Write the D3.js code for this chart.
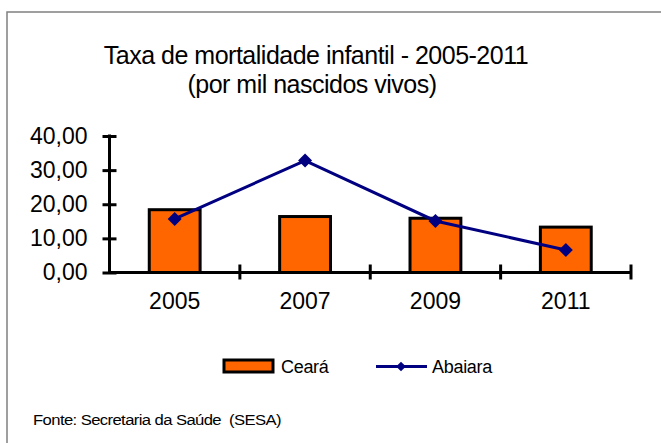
<!DOCTYPE html>
<meta charset="utf-8">
<style>
body { margin: 0; background: #fff; }
svg text { font-family: "Liberation Sans", Arial, sans-serif; fill: #000; }
.axis path, .axis line { stroke: #000; stroke-width: 3px; }
</style>
<body>
<svg id="chart" width="661" height="443"></svg>
<script src="https://d3js.org/d3.v7.min.js"></script>
<script>
// data
var years = ["2005", "2007", "2009", "2011"];
var ceara = [18.4, 16.4, 15.9, 13.3];
var abaiara = [15.7, 32.8, 15.1, 6.6];
var yTicks = [0, 10, 20, 30, 40];

var svg = d3.select("#chart");

// outer frame (runs off right and bottom edge)
svg.append("rect")
    .attr("x", 7).attr("y", 12)
    .attr("width", 700).attr("height", 500)
    .attr("fill", "#fff")
    .attr("stroke", "#808080")
    .attr("stroke-width", 1.5);

// title
var title = svg.append("text")
    .attr("text-anchor", "middle")
    .style("font-size", "25px")
    .style("letter-spacing", "-0.5px");
title.append("tspan").attr("x", 316).attr("y", 64).text("Taxa de mortalidade infantil - 2005-2011");
title.append("tspan").attr("x", 312).attr("y", 93).text("(por mil nascidos vivos)");

var pLeft = 109.5, pRight = 631, pTop = 136, pBottom = 272.5;

var x = d3.scaleBand()
    .domain(years)
    .range([pLeft, pRight])
    .paddingInner(0.61)
    .paddingOuter(0.305);

var y = d3.scaleLinear()
    .domain([0, 40])
    .range([pBottom, pTop]);

// bars
svg.append("g").selectAll("rect")
    .data(years)
    .enter().append("rect")
    .attr("x", function (d) { return x(d); })
    .attr("y", function (d, i) { return y(ceara[i]); })
    .attr("width", x.bandwidth())
    .attr("height", function (d, i) { return y(0) - y(ceara[i]); })
    .attr("fill", "#FF6600")
    .attr("stroke", "#000")
    .attr("stroke-width", 3);

// y axis
var yAxis = svg.append("g")
    .attr("class", "axis")
    .attr("transform", "translate(" + pLeft + ",0)")
    .call(d3.axisLeft(y).tickValues(yTicks).tickSize(7).tickSizeOuter(0)
        .tickFormat(function (d) { return d.toFixed(2).replace(".", ","); }));
yAxis.selectAll(".tick line").attr("x1", 7).attr("x2", -7);
yAxis.selectAll(".tick text")
    .attr("x", -22)
    .style("font-size", "23px")
    .style("font-family", "'Liberation Sans', Arial, sans-serif");
yAxis.select(".domain").attr("d", "M0," + pBottom + "V" + (pTop - 1.5));

// x axis
var xAxis = svg.append("g")
    .attr("class", "axis")
    .attr("transform", "translate(0," + pBottom + ")")
    .call(d3.axisBottom(x).tickSize(0).tickSizeOuter(0));
xAxis.selectAll(".tick text")
    .attr("y", 20)
    .style("font-size", "23px")
    .style("font-family", "'Liberation Sans', Arial, sans-serif");
xAxis.select(".domain").attr("d", "M" + (pLeft - 1.5) + ",0H" + pRight);
var bounds = years.map(function (d) { return x(d) + x.bandwidth() / 2 - x.step() / 2; });
bounds.push(pRight);
xAxis.selectAll(".bound")
    .data(bounds.slice(1))
    .enter().append("line")
    .attr("x1", function (d) { return d; })
    .attr("x2", function (d) { return d; })
    .attr("y1", -8).attr("y2", 7);

// line series
var line = d3.line()
    .x(function (d, i) { return x(years[i]) + x.bandwidth() / 2; })
    .y(function (d) { return y(d); });

svg.append("path")
    .datum(abaiara)
    .attr("d", line)
    .attr("fill", "none")
    .attr("stroke", "#000080")
    .attr("stroke-width", 3);

var diamond = d3.symbol().type(d3.symbolDiamond2).size(125);
svg.append("g").selectAll("path")
    .data(abaiara)
    .enter().append("path")
    .attr("d", diamond)
    .attr("transform", function (d, i) {
        return "translate(" + (x(years[i]) + x.bandwidth() / 2) + "," + y(d) + ")";
    })
    .attr("fill", "#000080");

// legend
var lg = svg.append("g");
lg.append("rect")
    .attr("x", 224).attr("y", 360)
    .attr("width", 49).attr("height", 12)
    .attr("fill", "#FF6600")
    .attr("stroke", "#000")
    .attr("stroke-width", 3);
lg.append("text")
    .attr("x", 281).attr("y", 373)
    .style("font-size", "18px")
    .style("letter-spacing", "-0.3px")
    .text("Ceará");
lg.append("line")
    .attr("x1", 376).attr("x2", 427)
    .attr("y1", 366.5).attr("y2", 366.5)
    .attr("stroke", "#000080")
    .attr("stroke-width", 3);
lg.append("path")
    .attr("d", d3.symbol().type(d3.symbolDiamond2).size(60))
    .attr("transform", "translate(401,366.5)")
    .attr("fill", "#000080");
lg.append("text")
    .attr("x", 432).attr("y", 373)
    .style("font-size", "18px")
    .style("letter-spacing", "-0.3px")
    .text("Abaiara");

// source
svg.append("text")
    .attr("x", 33).attr("y", 425)
    .attr("textLength", 248)
    .attr("lengthAdjust", "spacingAndGlyphs")
    .style("font-size", "14px")
    .style("letter-spacing", "-0.5px")
    .style("white-space", "pre")
    .text("Fonte: Secretaria da Saúde  (SESA)");
</script>
</body>
